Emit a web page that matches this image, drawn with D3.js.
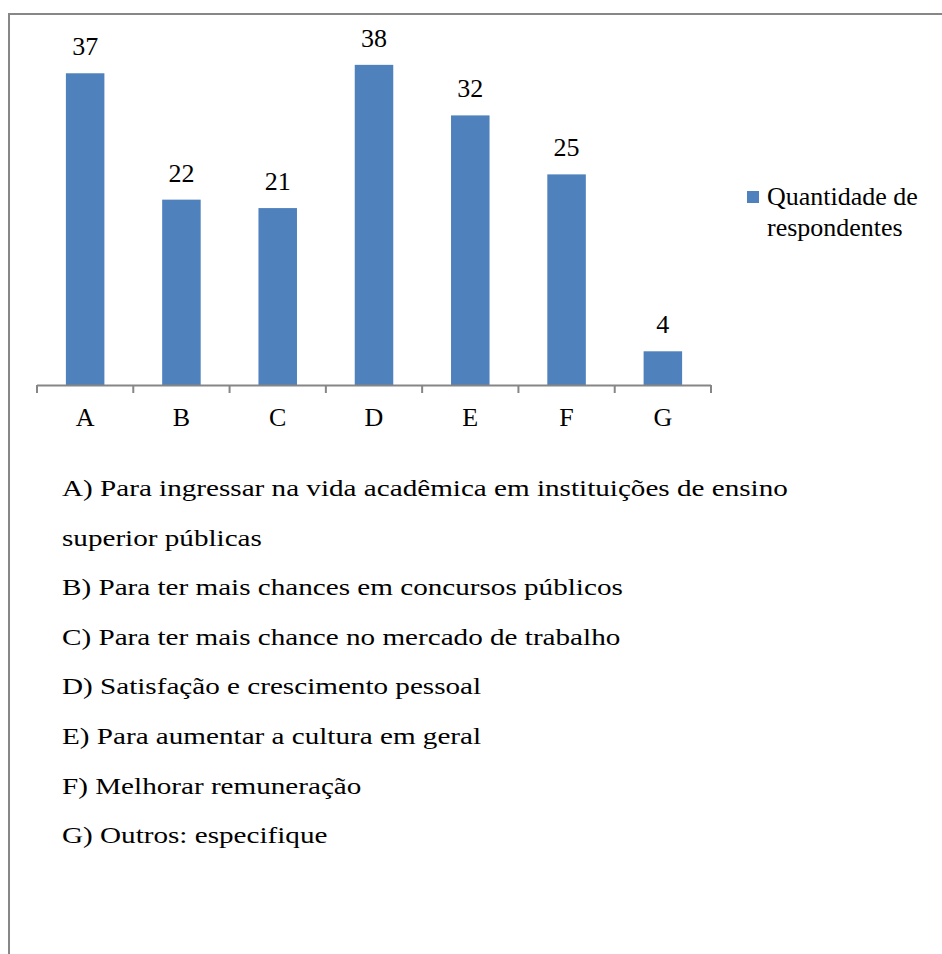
<!DOCTYPE html>
<html>
<head>
<meta charset="utf-8">
<script src="https://cdn.jsdelivr.net/npm/d3@7"></script>
<style>
  html, body { margin: 0; padding: 0; background: #fff; }
  svg { display: block; }
</style>
</head>
<body>
<svg id="chart" width="942" height="954" font-family="Liberation Serif, Times New Roman, serif"></svg>
<script>
// Motivos para fazer o curso — quantidade de respondentes por alternativa
const categories = ["A", "B", "C", "D", "E", "F", "G"];
const respondentes = [37, 22, 21, 38, 32, 25, 4];
const seriesName = ["Quantidade de", "respondentes"];
const descricoes = [
  "A) Para ingressar na vida acadêmica em instituições de ensino",
  "superior públicas",
  "B) Para ter mais chances em concursos públicos",
  "C) Para ter mais chance no mercado de trabalho",
  "D) Satisfação e crescimento pessoal",
  "E) Para aumentar a cultura em geral",
  "F) Melhorar remuneração",
  "G) Outros: especifique"
];
const yDomain = [0, 40];

const FONT = "Liberation Serif, Times New Roman, serif";
const svg = d3.select("#chart");
const W = 942, H = 954;
const barColor = "#4F81BD";
const axisColor = "#868686";

// outer frame (only top and left edges fall inside the page)
svg.append("path")
  .attr("d", `M9,${H} V14 H${W}`)
  .attr("fill", "none")
  .attr("stroke", "#878787")
  .attr("stroke-width", 2);

const plot = { left: 37, right: 711, top: 48, bottom: 385 };

const x = d3.scaleBand()
  .domain(categories)
  .range([plot.left, plot.right])
  .paddingInner(0.6)
  .paddingOuter(0.3);

const y = d3.scaleLinear()
  .domain(yDomain)
  .range([plot.bottom, plot.top]);

const rows = categories.map((c, i) => ({ c, v: respondentes[i] }));

// bars
svg.append("g").selectAll("rect")
  .data(rows)
  .join("rect")
  .attr("x", d => x(d.c))
  .attr("y", d => y(d.v))
  .attr("width", x.bandwidth())
  .attr("height", d => y(0) - y(d.v))
  .attr("fill", barColor);

// value labels above each bar
svg.append("g").selectAll("text")
  .data(rows)
  .join("text")
  .attr("x", d => x(d.c) + x.bandwidth() / 2)
  .attr("y", d => y(d.v) - 18)
  .attr("text-anchor", "middle")
  .attr("font-family", FONT)
  .attr("font-size", 26)
  .attr("fill", "#000")
  .text(d => d.v);

// category axis: labels centred on bands, tick marks on band boundaries
const axis = svg.append("g")
  .attr("transform", `translate(0,${plot.bottom})`)
  .call(d3.axisBottom(x).tickSize(0).tickPadding(0).tickSizeOuter(0));
axis.select(".domain").remove();
axis.attr("font-family", FONT).attr("font-size", 26);
axis.selectAll("text")
  .attr("fill", "#000")
  .attr("dy", null)
  .attr("y", 41);

const step = x.step();
const edges = d3.range(categories.length + 1).map(i => plot.left + i * step);
axis.append("line")
  .attr("x1", plot.left).attr("x2", plot.right)
  .attr("y1", 0.5).attr("y2", 0.5)
  .attr("stroke", axisColor).attr("stroke-width", 2);
axis.selectAll("line.tick-edge")
  .data(edges)
  .join("line")
  .attr("class", "tick-edge")
  .attr("x1", d => d).attr("x2", d => d)
  .attr("y1", 0).attr("y2", 8)
  .attr("stroke", axisColor).attr("stroke-width", 2);

// legend
const legend = svg.append("g").attr("transform", "translate(747,191)");
legend.append("rect").attr("width", 12).attr("height", 12).attr("fill", barColor);
legend.selectAll("text")
  .data(seriesName)
  .join("text")
  .attr("x", 20)
  .attr("y", (d, i) => 14 + i * 31)
  .attr("font-family", FONT)
  .attr("font-size", 26)
  .attr("fill", "#000")
  .text(d => d);

// descriptions of each alternative (set slightly wide, as in the source document)
const desc = svg.append("g").attr("id", "desc");
desc.selectAll("text")
  .data(descricoes)
  .join("text")
  .attr("transform", (d, i) => `translate(62,${496 + i * 49.6}) scale(1.215,1)`)
  .attr("font-family", FONT)
  .attr("font-size", 24)
  .attr("fill", "#000")
  .text(d => d);
</script>
</body>
</html>
